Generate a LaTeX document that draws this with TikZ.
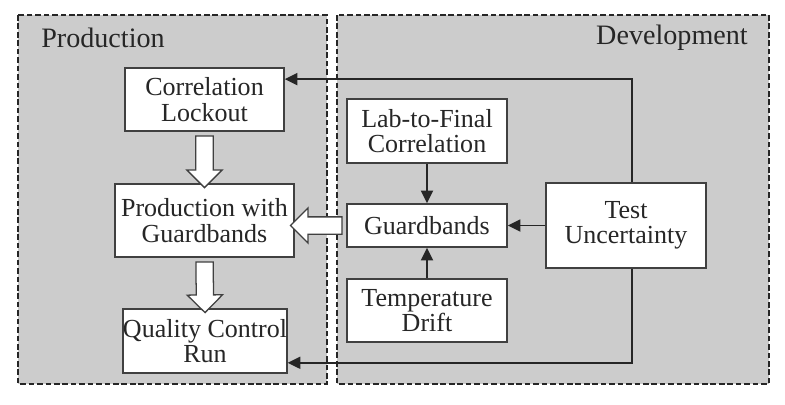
\documentclass[tikz,border=0pt]{standalone}
\usepackage{fontspec}
\setmainfont{Liberation Serif}
\usetikzlibrary{calc,positioning,arrows.meta,shapes.arrows}

% hollow block arrow between two anchors
\newcommand{\fatarrow}[2]{%
  \path let \p1=(#1), \p2=(#2),
    \n1={veclen(\x2-\x1,\y2-\y1)}, \n2={atan2(\y2-\y1,\x2-\x1)} in
    node[fat, minimum height=\n1, rotate=\n2] at ($(\p1)!.5!(\p2)$) {};}

\begin{document}
\begin{tikzpicture}[x=0.025cm,y=-0.025cm,
    zone/.style={draw=black!85, fill=black!20, line width=1.8pt, dash pattern=on 4pt off 2pt},
    blk/.style={draw=black!75, fill=white, line width=1pt, align=center, inner sep=0pt,
      font=\fontsize{18.5}{18}\selectfont, text=black!85},
    title/.style={font=\fontsize{20}{20}\selectfont, text=black!85},
    arr/.style={draw=black!85, line width=1.4pt, -{Triangle[length=9pt,width=8.5pt]}},
    fat/.style={draw=black!75, fill=white, line width=0.9pt, single arrow, inner xsep=0pt,
      inner ysep=0.2cm, single arrow head extend=0.225cm, single arrow tip angle=90}]
  \useasboundingbox (0,0) rectangle (785,404);

  \draw[zone] (18,15) rectangle (327,384);
  \draw[zone] (337,15) rectangle (769,384);
  \node[title] (prodlbl) at (103,38) {Production};
  \node[title] (devlbl) at (672,38) {Development};

  \node[blk, minimum width=3.975cm, minimum height=1.575cm] (lock) at (204.5,99.5) {Correlation\\Lockout};
  \node[blk, minimum width=4.475cm, minimum height=1.825cm] (prodgb) at (204.5,220.5) {Production with\\Guardbands};
  \node[blk, minimum width=4cm, minimum height=1.6cm] (qcr) at (205,341) {Quality Control\\Run};

  \node[blk, minimum width=4cm, minimum height=1.6cm] (lab) at (427,131) {Lab-to-Final\\Correlation};
  \node[blk, minimum width=4cm, minimum height=1.075cm] (guard) at (427,225.5) {Guardbands};
  \node[blk, minimum width=4cm, minimum height=1.575cm] (temp) at (427,310.5) {Temperature\\Drift};
  \node[blk, minimum width=4cm, minimum height=2.125cm] (tu) at (626,225.5) {Test\\Uncertainty};

  \draw[arr] (lab) -- (guard);
  \draw[arr] (temp) -- (guard);
  \draw[arr] (tu) -- (guard);
  \draw[arr] ([xshift=4pt]tu.north) |- ([yshift=14.5pt]lock.east);
  \draw[arr] ([xshift=4pt]tu.south) |- ([yshift=-15.5pt]qcr.east);

  \fatarrow{lock.south}{prodgb.north}
  \fatarrow{prodgb.south}{qcr.north}
  \fatarrow{guard.west}{prodgb.east |- guard.west}
\end{tikzpicture}
\end{document}
